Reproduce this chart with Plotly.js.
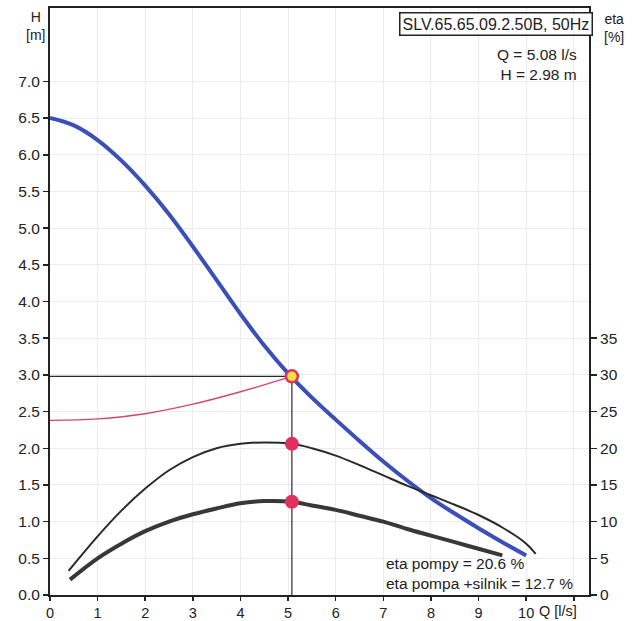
<!DOCTYPE html>
<html><head><meta charset="utf-8">
<script src="https://cdn.plot.ly/plotly-3.0.1.min.js"></script>
<style>html,body{margin:0;padding:0;background:#fff}#c{width:636px;height:621px}</style>
</head><body><div id="c"></div>
<script>
// Pump head curve H(Q)
const qH = [0, 0.5, 1.0, 1.5, 2.0, 2.5, 3.0, 3.5, 4.0, 4.5, 5.0, 5.5, 6.0, 6.5, 7.0, 7.5, 8.0, 8.5, 9.0, 9.5, 10.0];
const hH = [6.50, 6.40, 6.20, 5.92, 5.58, 5.19, 4.75, 4.29, 3.83, 3.40, 3.02, 2.69, 2.39, 2.10, 1.82, 1.56, 1.32, 1.11, 0.91, 0.72, 0.54];
// System curve
const qSys = [0, 1, 2, 3, 4, 5.08];
const hSys = [2.38, 2.40, 2.47, 2.60, 2.77, 2.98];
// Pump efficiency [%]
const qEta = [0.39, 1.0, 1.5, 2.0, 2.5, 3.0, 3.5, 4.0, 4.5, 5.08, 5.5, 6.0, 6.5, 7.0, 7.5, 8.0, 8.5, 9.0, 9.5, 10.0, 10.2];
const etaPump = [3.3, 8.0, 11.5, 14.5, 17.0, 18.8, 20.0, 20.6, 20.8, 20.6, 20.0, 19.0, 17.7, 16.3, 14.9, 13.6, 12.3, 10.9, 9.2, 7.0, 5.6];
// Pump + motor efficiency [%]
const qEtaTot = [0.42, 1.0, 1.5, 2.0, 2.5, 3.0, 3.5, 4.0, 4.5, 5.08, 5.5, 6.0, 6.5, 7.0, 7.5, 8.0, 8.5, 9.0, 9.5];
const etaTot = [2.1, 5.0, 7.0, 8.7, 10.0, 11.0, 11.8, 12.5, 12.8, 12.7, 12.2, 11.6, 10.8, 10.0, 9.0, 8.1, 7.2, 6.3, 5.4];
// Operating point
const opQ = 5.08, opH = 2.98, opEtaPump = 20.6, opEtaTot = 12.7;
// Tick labels
const xTicks = [0,1,2,3,4,5,6,7,8,9,10,11];
const xTickText = ['0','1','2','3','4','5','6','7','8','9','10',''];
const yTicks = [0,0.5,1,1.5,2,2.5,3,3.5,4,4.5,5,5.5,6,6.5,7];
const y2Ticks = [0,5,10,15,20,25,30,35];

const ink = '#222';
const traces = [
  {x: qEta, y: etaPump, yaxis: 'y2', mode: 'lines', line: {color: '#2a2a2a', width: 2, shape: 'spline'}, hoverinfo: 'skip'},
  {x: qEtaTot, y: etaTot, yaxis: 'y2', mode: 'lines', line: {color: '#383838', width: 4, shape: 'spline'}, hoverinfo: 'skip'},
  {x: [0, opQ, opQ], y: [opH, opH, 0], mode: 'lines', line: {color: '#2a2a2a', width: 1.2}, hoverinfo: 'skip'},
  {x: qSys, y: hSys, mode: 'lines', line: {color: '#d6456b', width: 1.3, shape: 'spline'}, hoverinfo: 'skip'},
  {x: qH, y: hH, mode: 'lines', line: {color: '#3a4fb8', width: 4, shape: 'spline'}, hoverinfo: 'skip'},
  {x: [opQ, opQ], y: [opEtaPump, opEtaTot], yaxis: 'y2', mode: 'markers', marker: {color: '#e0305e', size: 14}, hoverinfo: 'skip'},
  {x: [opQ], y: [opH], mode: 'markers', marker: {color: '#f2df3c', size: 12, line: {color: '#e0305e', width: 2.5}}, hoverinfo: 'skip'}
];

const fam = 'Liberation Sans, Arial, sans-serif';
const layout = {
  width: 636, height: 621,
  margin: {l: 50, r: 47, t: 8, b: 26},
  paper_bgcolor: '#fff', plot_bgcolor: '#fff',
  showlegend: false,
  font: {family: fam, size: 15, color: ink},
  xaxis: {range: [0, 11.32], tickvals: xTicks, ticktext: xTickText, ticks: 'outside', ticklen: 4, tickwidth: 1.5, tickcolor: ink,
          showline: true, linecolor: ink, linewidth: 2, mirror: true, showgrid: true, gridcolor: '#ececec', zeroline: false,
          tickfont: {size: 14.5, color: ink}},
  yaxis: {range: [0, 8], tickvals: yTicks, tickformat: '.1f', ticks: 'outside', ticklen: 5, tickwidth: 1.5, tickcolor: ink,
          showline: true, linecolor: ink, linewidth: 2, showgrid: true, gridcolor: '#ececec', zeroline: false,
          tickfont: {size: 15.5, color: ink}},
  yaxis2: {range: [0, 80], overlaying: 'y', side: 'right', tickvals: y2Ticks, ticks: 'outside', ticklen: 6, tickwidth: 1.5, tickcolor: ink,
          showline: true, linecolor: ink, linewidth: 2, showgrid: false, zeroline: false, tickfont: {size: 15.5, color: ink}},
  annotations: [
    {xref: 'paper', yref: 'paper', x: -0.026, y: 1.0, xanchor: 'center', yanchor: 'top', yshift: 1, text: 'H<br>[m]', showarrow: false, align: 'center', font: {size: 14, color: ink}},
    {xref: 'paper', yref: 'paper', x: 1.046, y: 0.998, xanchor: 'center', yanchor: 'top', text: 'eta<br>[%]', showarrow: false, align: 'center', font: {size: 14, color: ink}},
    {xref: 'paper', yref: 'paper', x: 1.0, y: 0.993, xanchor: 'right', yanchor: 'top', xshift: 4, text: 'SLV.65.65.09.2.50B, 50Hz', showarrow: false,
     bordercolor: ink, borderwidth: 1.5, borderpad: 2, bgcolor: '#fff', font: {size: 16, color: ink}},
    {xref: 'paper', yref: 'paper', x: 0.982, y: 0.938, xanchor: 'right', yanchor: 'top', text: 'Q = ' + opQ.toFixed(2) + ' l/s<br>H = ' + opH.toFixed(2) + ' m', showarrow: false, align: 'right', font: {size: 15.5, color: ink}},
    {xref: 'paper', yref: 'paper', x: 0.62, y: 0.0, xanchor: 'left', yanchor: 'bottom', yshift: 1, text: 'eta pompy = ' + opEtaPump + ' %<br>eta pompa +silnik = ' + opEtaTot + ' %', showarrow: false, align: 'left', font: {size: 15.5, color: ink}},
    {xref: 'paper', yref: 'paper', x: 0.942, y: 0, xanchor: 'center', yanchor: 'top', yshift: -6, text: 'Q [l/s]', showarrow: false, font: {size: 14.5, color: ink}}
  ]
};
Plotly.newPlot('c', traces, layout, {staticPlot: true, displayModeBar: false});
</script>
</body></html>
